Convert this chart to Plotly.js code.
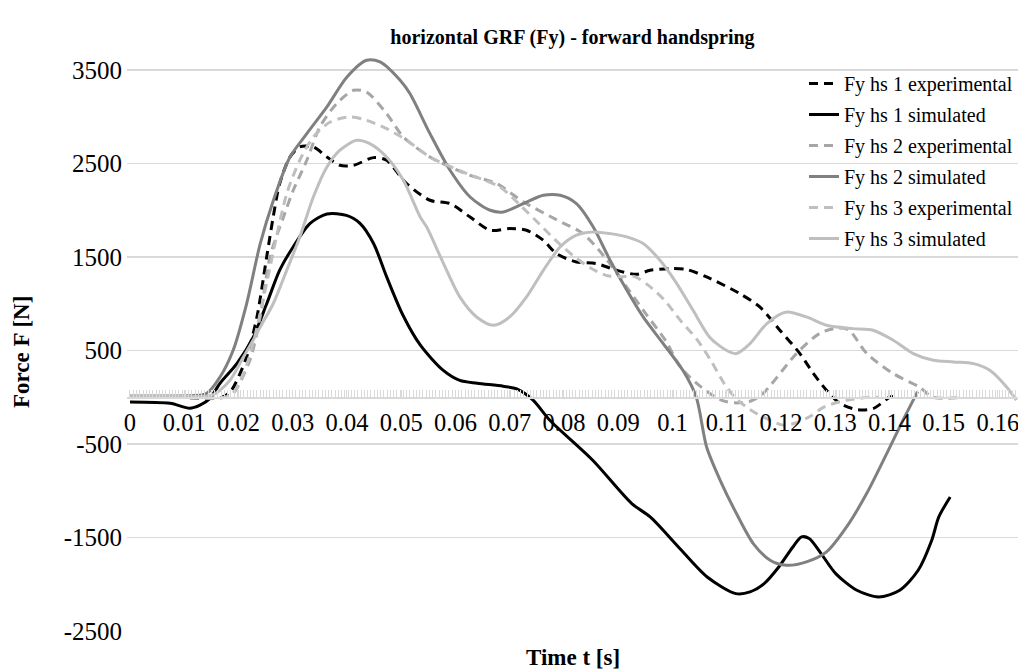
<!DOCTYPE html>
<html>
<head>
<meta charset="utf-8">
<script src="https://cdn.plot.ly/plotly-3.0.1.min.js"></script>
<style>html,body{margin:0;padding:0;background:#fff;}#chart{width:1018px;height:671px;}</style>
</head>
<body>
<div id="chart"></div>
<script>
// ---- data (time in s, force in N) ----
const seriesNames = ["Fy hs 1 experimental","Fy hs 1 simulated","Fy hs 2 experimental","Fy hs 2 simulated","Fy hs 3 experimental","Fy hs 3 simulated"];

const hs1ExpT = [0,0.008,0.017,0.0187,0.0215,0.0234,0.0252,0.0264,0.0276,0.0295,0.0313,0.0338,0.0363,0.0387,0.0412,0.0449,0.0473,0.051,0.0553,0.059,0.0627,0.0664,0.07,0.0731,0.0762,0.0786,0.0823,0.086,0.0897,0.0934,0.0959,0.0995,0.1026,0.1063,0.1124,0.1161,0.1198,0.1235,0.126,0.1284,0.1309,0.134,0.137,0.1401,0.141];
const hs1ExpF = [0,0,0,75,431,859,1500,1928,2285,2570,2677,2677,2570,2481,2481,2563,2535,2285,2107,2071,1928,1786,1804,1786,1679,1537,1447,1430,1358,1315,1358,1376,1366,1287,1109,966,717,467,253,75,-67,-132,-121,3,10];

const hs1SimT = [0,0.0074,0.011,0.0129,0.0147,0.0166,0.0197,0.0227,0.0252,0.0276,0.0301,0.0332,0.0363,0.0399,0.0424,0.0449,0.0473,0.0503,0.0535,0.0577,0.0608,0.064,0.0688,0.0713,0.0743,0.0774,0.0853,0.0925,0.0959,0.1011,0.1064,0.1117,0.1143,0.1169,0.1196,0.1222,0.1238,0.1252,0.1274,0.1301,0.134,0.138,0.1419,0.1453,0.1478,0.1491,0.1512];
const hs1SimF = [-50,-65,-118,-85,-15,150,360,640,1000,1360,1610,1860,1960,1945,1860,1645,1290,880,560,290,180,150,118,90,-30,-246,-674,-1137,-1280,-1601,-1922,-2100,-2082,-1993,-1815,-1601,-1494,-1511,-1672,-1886,-2064,-2136,-2064,-1850,-1529,-1280,-1066];

const hs2ExpT = [0,0.008,0.0175,0.019,0.0221,0.024,0.0258,0.0283,0.0301,0.0326,0.035,0.0381,0.0412,0.0436,0.0473,0.0504,0.0553,0.059,0.0627,0.0676,0.0725,0.0786,0.0835,0.0875,0.0913,0.095,0.0988,0.1015,0.1055,0.109,0.1115,0.1145,0.1167,0.1229,0.1272,0.1305,0.1325,0.1358,0.1407,0.1456,0.148,0.1535];
const hs2ExpF = [0,0,0,40,396,859,1500,1928,2214,2535,2891,3141,3283,3265,3034,2784,2570,2463,2374,2285,2090,1900,1750,1500,1200,900,600,320,100,-30,-60,-40,40,470,685,740,720,470,253,107,0,0];

const hs2SimT = [0,0.005,0.01,0.0141,0.0166,0.019,0.0215,0.024,0.0264,0.0295,0.0326,0.0363,0.04,0.0436,0.0461,0.0498,0.0516,0.0553,0.059,0.0627,0.0664,0.0688,0.0725,0.0762,0.0793,0.0823,0.0854,0.0885,0.0916,0.0946,0.0983,0.102,0.1044,0.1063,0.1088,0.1118,0.1149,0.118,0.121,0.1247,0.1284,0.1321,0.1358,0.1395,0.1425,0.1452];
const hs2SimF = [10,15,15,40,217,500,1000,1640,2100,2570,2820,3105,3425,3604,3586,3390,3248,2820,2428,2142,2000,1982,2071,2160,2160,2071,1821,1465,1144,859,574,280,0,-532,-888,-1244,-1565,-1743,-1797,-1761,-1654,-1387,-1030,-603,-246,60];

const hs3ExpT = [0,0.008,0.0185,0.0209,0.0227,0.0252,0.027,0.0289,0.0313,0.0338,0.0369,0.0406,0.0436,0.0473,0.051,0.0553,0.0621,0.0682,0.072,0.0755,0.079,0.082,0.085,0.088,0.0905,0.093,0.0955,0.0985,0.1015,0.1045,0.107,0.1095,0.1115,0.1145,0.118,0.1205,0.123,0.1255,0.128,0.132,0.1365,0.138];
const hs3ExpF = [0,0,20,250,577,1220,1715,2178,2535,2784,2944,2998,2962,2873,2749,2570,2392,2249,2050,1850,1650,1500,1380,1300,1290,1290,1200,1040,820,620,400,150,0,-140,-246,-300,-270,-200,-104,-32,0,0];

const hs3SimT = [0,0.008,0.015,0.0184,0.0209,0.0227,0.024,0.0264,0.0289,0.0313,0.0338,0.0363,0.0387,0.0418,0.0442,0.0473,0.0504,0.0535,0.0547,0.0578,0.0608,0.0639,0.067,0.07,0.0731,0.0762,0.0793,0.0823,0.0854,0.0885,0.0916,0.0946,0.0977,0.1008,0.1038,0.1069,0.11,0.1118,0.1143,0.1174,0.121,0.1247,0.1284,0.1333,0.137,0.1407,0.1444,0.1481,0.1518,0.1555,0.1585,0.1616,0.1634];
const hs3SimF = [20,20,20,180,430,610,750,1000,1360,1715,2142,2463,2642,2749,2713,2570,2320,1928,1821,1430,1073,859,770,859,1073,1358,1607,1733,1768,1750,1715,1644,1465,1216,930,640,500,467,574,788,912,859,770,734,717,610,467,396,378,360,289,110,-32];

const yTickVals = [-2500,-1500,-500,500,1500,2500,3500];
const xTickVals = [0,0.01,0.02,0.03,0.04,0.05,0.06,0.07,0.08,0.09,0.1,0.11,0.12,0.13,0.14,0.15,0.16];
const xTickText = ["0","0.01","0.02","0.03","0.04","0.05","0.06","0.07","0.08","0.09","0.1","0.11","0.12","0.13","0.14","0.15","0.16"];

const FONT = "Liberation Serif";
const colors = ["#000000","#000000","#a6a6a6","#808080","#bfbfbf","#bfbfbf"];
const dashes = ["9px,6px","solid","9px,6px","solid","9px,6px","solid"];
const xs = [hs1ExpT,hs1SimT,hs2ExpT,hs2SimT,hs3ExpT,hs3SimT];
const ys = [hs1ExpF,hs1SimF,hs2ExpF,hs2SimF,hs3ExpF,hs3SimF];

const traces = seriesNames.map((n,i)=>({
  type:'scatter', mode:'lines', name:n, x:xs[i], y:ys[i],
  legendgroup:'g'+i,
  line:{color:colors[i], width:3, dash:dashes[i], shape:'spline', smoothing:0.8}
}));

const Y_TOP = 3650, Y_BOT = -2500;
const PH = 575; // plot height in px
const layout = {
  width:1018, height:671,
  margin:{l:127, r:0, t:56, b:40},
  paper_bgcolor:'#fff', plot_bgcolor:'#fff',
  font:{family:FONT, size:24, color:'#000'},
  title:{text:'<b>horizontal GRF (Fy) - forward handspring</b>', font:{family:FONT, size:20, color:'#000'}, x:0.5, xref:'paper', xanchor:'center', y:1-37/671, yanchor:'middle'},
  showlegend:true,
  legend:{x:1, xanchor:'right', y:1-(64-56)/PH, yanchor:'top', bgcolor:'rgba(0,0,0,0)', font:{family:FONT, size:20, color:'#000'}, tracegroupgap:2},
  xaxis:{
    range:[-0.00055, 0.1637], anchor:'free', position:(0-Y_BOT)/(Y_TOP-Y_BOT),
    tickvals:xTickVals, ticktext:xTickText, tickfont:{family:FONT, size:24.5, color:'#000'},
    ticklabeloverflow:'allow',
    showgrid:false, zeroline:false, showline:true, linecolor:'#d9d9d9', linewidth:1.5,
    ticks:'inside', ticklen:7, tickcolor:'#d9d9d9', tickwidth:1,
    minor:{tick0:0, dtick:0.0006, ticks:'inside', ticklen:7, tickcolor:'#d9d9d9', tickwidth:1, showgrid:false},
    ticklabelstandoff:3
  },
  yaxis:{
    range:[Y_BOT,Y_TOP], tickvals:yTickVals, ticktext:yTickVals.map(String),
    tickfont:{family:FONT, size:25, color:'#000'},
    showgrid:true, gridcolor:'#d9d9d9', gridwidth:1.5, zeroline:false, showline:false, ticks:'',
    ticklabelstandoff:4
  },
  annotations:[
    {text:'<b>Time t [s]</b>', xref:'paper', yref:'paper', x:0.5, y:-26/PH, xanchor:'center', yanchor:'middle', showarrow:false, font:{family:FONT, size:23, color:'#000'}},
    {text:'<b>Force F [N]</b>', xref:'paper', yref:'paper', x:-(127-21)/891, y:(631-352)/PH, xanchor:'center', yanchor:'middle', textangle:-90, showarrow:false, font:{family:FONT, size:23, color:'#000'}}
  ]
};

Plotly.newPlot('chart', traces, layout, {displayModeBar:false, staticPlot:true});
</script>
</body>
</html>
